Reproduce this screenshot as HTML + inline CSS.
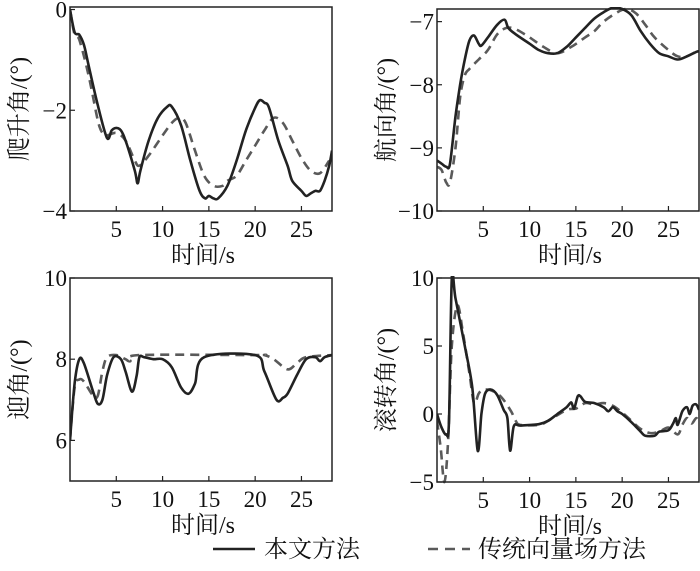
<!DOCTYPE html>
<html><head><meta charset="utf-8"><style>
body{margin:0;background:#fff}
svg{display:block}
text{font-family:"Liberation Serif","Noto Serif CJK SC",serif;fill:#111}
</style></head><body>
<svg id="c" width="700" height="571" viewBox="0 0 700 571"></svg>
<script>
const xTicks=[5,10,15,20,25];
const pitchSolid=[[0,0],[0.5,-0.45],[1,-0.5],[1.5,-0.7],[2,-1.1],[3,-1.9],[4,-2.55],[4.5,-2.4],[5,-2.35],[5.5,-2.4],[6,-2.6],[7,-3.2],[7.3,-3.45],[7.6,-3.2],[8.5,-2.6],[9.5,-2.15],[10.5,-1.93],[11,-1.93],[12,-2.3],[13,-3.0],[14,-3.6],[14.6,-3.75],[15,-3.7],[15.5,-3.75],[16,-3.75],[17,-3.5],[18,-3.0],[19,-2.4],[20,-1.95],[20.5,-1.8],[21,-1.85],[21.5,-1.95],[22.5,-2.6],[23.5,-3.1],[24,-3.4],[25,-3.6],[25.5,-3.7],[26,-3.65],[26.5,-3.6],[27,-3.6],[27.5,-3.4],[28,-3.1],[28.3,-2.8]];
const pitchDash=[[0,0],[0.5,-0.5],[1,-0.6],[2,-1.3],[3,-2.2],[3.5,-2.45],[4,-2.5],[5,-2.45],[6,-2.6],[7,-3.0],[7.5,-3.1],[8.5,-2.9],[10,-2.5],[11,-2.25],[11.8,-2.15],[12.5,-2.25],[13.5,-2.8],[14.5,-3.3],[15.5,-3.5],[16.5,-3.5],[17,-3.4],[18,-3.3],[19,-3.0],[20,-2.7],[21,-2.4],[22,-2.15],[23,-2.25],[24,-2.6],[25,-2.95],[26,-3.2],[27,-3.25],[28,-3.0]];
const yawSolid=[[0,-9.2],[0.5,-9.25],[1,-9.3],[1.4,-9.25],[2,-8.5],[2.5,-8.0],[3,-7.6],[3.5,-7.3],[4,-7.22],[4.5,-7.35],[4.8,-7.38],[5.5,-7.25],[6.5,-7.05],[7.3,-6.97],[7.7,-7.1],[8.5,-7.2],[10,-7.35],[11,-7.45],[12,-7.5],[13,-7.5],[14,-7.4],[15,-7.25],[16,-7.1],[17,-6.95],[18,-6.85],[19,-6.78],[20,-6.8],[21,-6.9],[22,-7.15],[23,-7.35],[24,-7.5],[25,-7.55],[26,-7.6],[27,-7.55],[28,-7.48],[28.3,-7.47]];
const yawDash=[[0,-9.3],[0.5,-9.35],[1,-9.55],[1.4,-9.55],[2,-9.0],[2.5,-8.2],[3,-7.85],[3.5,-7.75],[4.5,-7.6],[5.5,-7.45],[6.5,-7.2],[7.5,-7.1],[8.5,-7.12],[10,-7.25],[11.5,-7.4],[13,-7.5],[14.5,-7.4],[16,-7.25],[17,-7.15],[18,-7.0],[19.5,-6.85],[20.5,-6.8],[21.5,-6.87],[22.5,-7.05],[23.5,-7.25],[25,-7.45],[26,-7.55],[27,-7.55],[28.3,-7.45]];
const aoaSolid=[[0,6.0],[0.5,7.4],[1,8.0],[1.5,7.9],[2.5,7.2],[3,6.9],[3.5,7.0],[4,7.6],[4.7,8.05],[5.5,8.0],[6,7.7],[6.7,7.2],[7.2,7.6],[7.5,8.05],[8,8.05],[9,8.0],[10,8.0],[11,7.8],[12,7.3],[12.8,7.15],[13.5,7.4],[14.5,8.05],[20,8.1],[21,7.7],[22.3,7.0],[23,7.05],[23.5,7.15],[24.5,7.6],[25.5,8.0],[26.5,8.05],[27,7.95],[27.5,8.05],[28.3,8.1]];
const aoaDash=[[0,6.0],[0.5,7.3],[1,7.5],[1.5,7.45],[2.5,7.1],[3,7.1],[3.5,7.7],[4,8.05],[5,8.1],[6,8.0],[6.5,7.95],[7.5,8.1],[20,8.1],[21,8.1],[22,8.0],[23.5,7.75],[24.5,7.9],[25.5,8.05],[28.3,8.1]];
const rollSolid=[[0,0],[0.5,-1.0],[1,-1.5],[1.3,-0.5],[1.6,10],[2,8.5],[3,5],[3.8,2],[4.4,-2.7],[4.8,0],[5.2,1.5],[5.8,1.8],[6.5,1.4],[7.2,0.3],[7.6,-0.3],[7.9,-2.7],[8.3,-0.9],[9,-0.85],[11,-0.75],[12,-0.5],[13,0],[14,0.5],[14.5,0.85],[14.8,0.4],[15.2,1.3],[15.5,1.3],[16,0.9],[17,0.8],[18,0.5],[18.5,0.2],[19,0.5],[19.5,0.2],[20,0],[21,-0.6],[22,-1.3],[22.5,-1.6],[23.5,-1.6],[24,-1.3],[25,-1.2],[25.5,-0.7],[25.8,-0.3],[26,-0.8],[26.5,0.2],[27,0.5],[27.3,0.0],[27.6,0.6],[28,0.7],[28.3,0.3]];
const rollDash=[[0,-0.5],[0.4,-2.5],[0.8,-5],[1.2,-2],[1.6,5],[2.2,8],[2.8,6],[3.5,3],[4,0.8],[4.5,1.5],[5,1.8],[6,1.7],[7,1.2],[8,0.2],[8.5,-0.5],[9,-0.8],[11,-0.8],[12,-0.5],[14,0.3],[15,0.4],[16,0.8],[17,0.7],[18,0.8],[19,0.6],[20,0.1],[21,-0.5],[22,-1.1],[23,-1.4],[24,-1.3],[25,-1.0],[26,-1.5],[26.5,-0.8],[27,-0.3],[27.5,-0.7],[28,-0.3],[28.3,-0.6]];
const panels=[
 {name:'pitch',label:'爬升角/(°)',L:70,R:332,T:7,B:211,ymin:-4,ymax:0.05,yt:[0,-2,-4],s:pitchSolid,d:pitchDash},
 {name:'yaw',label:'航向角/(°)',L:437,R:699,T:9,B:211,ymin:-10,ymax:-6.8,yt:[-7,-8,-9,-10],s:yawSolid,d:yawDash},
 {name:'aoa',label:'迎角/(°)',L:70,R:332,T:278,B:481,ymin:5,ymax:10,yt:[10,8,6],s:aoaSolid,d:aoaDash},
 {name:'roll',label:'滚转角/(°)',L:437,R:699,T:278,B:482,ymin:-5,ymax:10,yt:[10,5,0,-5],s:rollSolid,d:rollDash}
];
const NS='http://www.w3.org/2000/svg',svg=document.getElementById('c');
function mk(t,a,p){const e=document.createElementNS(NS,t);for(const k in a)e.setAttribute(k,a[k]);(p||svg).appendChild(e);return e;}
function smooth(P){let d='M'+P[0][0].toFixed(1)+' '+P[0][1].toFixed(1);
 for(let i=0;i<P.length-1;i++){const p0=P[i-1]||P[i],p1=P[i],p2=P[i+1],p3=P[i+2]||p2;const k=0.16;
  d+='C'+(p1[0]+(p2[0]-p0[0])*k).toFixed(1)+' '+(p1[1]+(p2[1]-p0[1])*k).toFixed(1)+' '+(p2[0]-(p3[0]-p1[0])*k).toFixed(1)+' '+(p2[1]-(p3[1]-p1[1])*k).toFixed(1)+' '+p2[0].toFixed(1)+' '+p2[1].toFixed(1);}
 return d;}
panels.forEach(p=>{
 const g=mk('g',{});
 
 
 const xs=t=>p.L+(t/28.3)*(p.R-p.L);
 const ys=v=>p.B-(v-p.ymin)/(p.ymax-p.ymin)*(p.B-p.T);
 const cp=mk('clipPath',{id:'cl'+p.name},g);mk('rect',{x:p.L,y:p.T-2,width:p.R-p.L,height:p.B-p.T+4},cp);
 const line=(arr,dash,col,nm)=>{const e=mk('path',{d:smooth(arr.map(q=>[xs(q[0]),ys(q[1])])),fill:'none',stroke:col,'stroke-width':2.6,'stroke-dasharray':dash,'stroke-linejoin':'round','clip-path':'url(#cl'+p.name+')'},g);
  
  };
 line(p.d,'9 6','#5a5a5a',p.name+'-traditional-line');
 line(p.s,'none','#222',p.name+'-proposed-line');
 const f=mk('rect',{x:p.L,y:p.T,width:p.R-p.L,height:p.B-p.T,fill:'none',stroke:'#222','stroke-width':1.5},g);
 
 
 xTicks.forEach(t=>{mk('line',{x1:xs(t),x2:xs(t),y1:p.B,y2:p.B-5,stroke:'#222','stroke-width':1.2},g);
  const tx=mk('text',{x:xs(t),y:p.B+26,'text-anchor':'middle','font-size':23},g);tx.textContent=t;
  
  });
 p.yt.forEach(v=>{mk('line',{x1:p.L,x2:p.L+5,y1:ys(v),y2:ys(v),stroke:'#222','stroke-width':1.2},g);
  const tx=mk('text',{x:p.L-3,y:ys(v)+8,'text-anchor':'end','font-size':23},g);tx.textContent=String(v).replace('-','−');
  
  });
 const xt=mk('text',{x:(p.L+p.R)/2+2,y:p.B+52,'text-anchor':'middle','font-size':24},g);xt.textContent='时间/s';
 
 
 const cx=p.L-52,cy=(p.T+p.B)/2;
 const yt=mk('text',{x:cx,y:cy,'text-anchor':'middle','font-size':24,transform:'rotate(-90 '+cx+' '+cy+')',dy:9},g);yt.textContent=p.label;
 
 
});
</script>
<svg width="700" height="571" style="position:absolute;left:0;top:0">
 <line x1="213" y1="549" x2="255" y2="549" stroke="#222" stroke-width="2.6"/>
 <text x="264" y="557" font-size="24">本文方法</text>
 <line x1="428" y1="549" x2="470" y2="549" stroke="#5a5a5a" stroke-width="2.6" stroke-dasharray="10 7"/>
 <text x="478" y="557" font-size="24">传统向量场方法</text>
</svg>
</body></html>
